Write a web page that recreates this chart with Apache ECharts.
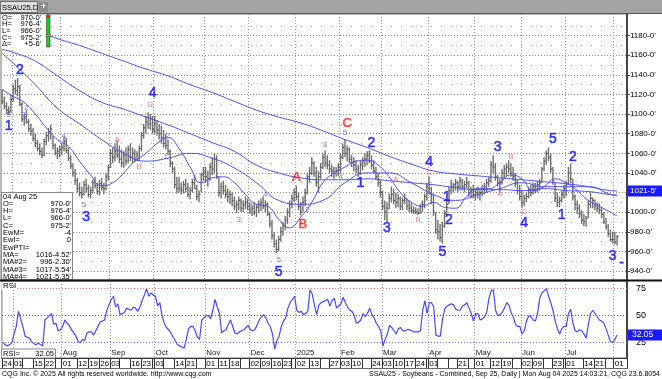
<!DOCTYPE html>
<html><head><meta charset="utf-8">
<script src="https://cdn.jsdelivr.net/npm/echarts@6/dist/echarts.min.js"></script>
<style>html,body{margin:0;padding:0;background:#fff;}#c{width:662px;height:379px;}</style>
</head><body><div id="c"></div>
<script>
// ---------- calendar ----------
const holidays = ['2024-07-04','2024-09-02','2024-11-28','2024-12-25','2025-01-01','2025-01-09','2025-01-20','2025-02-17','2025-04-18','2025-05-26','2025-06-19','2025-07-04'];
function buildTradingDays(start, end, hol) {
  const out = [];
  for (let t = Date.parse(start + 'T00:00:00Z'); t <= Date.parse(end + 'T00:00:00Z'); t += 86400000) {
    const d = new Date(t), wd = d.getUTCDay();
    if (wd === 0 || wd === 6) continue;
    const s = d.toISOString().slice(0, 10);
    if (hol.indexOf(s) >= 0) continue;
    out.push(s);
  }
  return out;
}
const categories = buildTradingDays('2024-06-24', '2025-08-08', holidays);
const labeledDates = ['2024-06-24','2024-07-01','2024-07-15','2024-07-22','2024-08-01','2024-08-12','2024-08-19','2024-08-26','2024-09-03','2024-09-16','2024-09-23','2024-10-01','2024-10-14','2024-10-21','2024-11-01','2024-11-11','2024-11-18','2024-12-02','2024-12-09','2024-12-16','2024-12-23','2025-01-02','2025-01-13','2025-01-27','2025-02-03','2025-02-10','2025-02-24','2025-03-03','2025-03-10','2025-03-17','2025-03-24','2025-04-01','2025-04-21','2025-05-01','2025-05-12','2025-05-19','2025-06-02','2025-06-09','2025-06-23','2025-07-01','2025-07-14','2025-07-21','2025-08-01'];
const monthNames = ['2025','Feb','Mar','Apr','May','Jun','Jul','Aug','Sep','Oct','Nov','Dec'];

// ---------- daily price bars (Jun 24 2024 .. Aug 04 2025) ----------
const priceHigh = [
  1125,1118,1112,1108,1120,
  1130,1135,1137,1130,1112,1100,1104,1095,1090,1086,1080,1074,1070,1066,1075,1082,1086,1089,1078,1070,1066,1068,
  1070,1077,1076,1066,1058,1050,1044,1035,1030,1026,1032,1034,1028,1026,1033,1036,1030,1033,1035,1030,1040,1048,
  1064,1066,1070,1073,1068,1064,1062,1066,1068,1070,1066,1064,1062,1068,1082,1090,1098,1102,1100,1098,
  1098,1094,1090,1088,1084,1080,1074,1064,1052,1046,1036,1036,1030,1032,1034,1030,1026,1034,1038,1028,1022,1040,1046,
  1046,1042,1050,1056,1060,1058,1036,1030,1032,1028,1024,1022,1020,1016,1012,1016,1014,1012,1016,1014,
  1010,1008,1010,1008,1012,1014,1016,1012,1010,1000,992,980,972,976,985,990,996,1004,1012,1018,1024,
  1027,1020,1010,1016,1024,1040,1046,1056,1052,1046,1042,1050,1060,1063,1058,1053,1048,1046,1046,1050,
  1060,1070,1074,1068,1066,1058,1056,1053,1048,1052,1056,1060,1062,1063,1058,1053,1046,1040,1033,
  1022,1012,1010,1019,1026,1024,1020,1019,1016,1015,1019,1014,1012,1009,1006,1005,1004,1008,1012,1019,1030,
  1036,1026,1018,1000,992,988,990,1002,1012,1026,1033,1030,1034,1032,1036,1034,1032,1036,1032,1026,1028,
  1024,1026,1022,1028,1030,1034,1036,1052,1058,1050,1038,1034,1044,1048,1050,1053,1050,1046,1040,1034,1028,
  1022,1018,1020,1026,1028,1030,1030,1032,1034,1046,1056,1063,1066,1060,1046,1030,1020,1016,1022,1028,
  1032,1046,1049,1034,1018,1012,1008,1002,998,996,1012,1020,1015,1013,1010,1009,1005,1000,994,988,982,980,
  980,976.5
];
const priceLow = [
  1110,1105,1100,1099,1101,
  1112,1120,1118,1108,1092,1088,1090,1082,1078,1072,1066,1062,1058,1055,1057,1068,1072,1074,1064,1058,1054,1056,
  1058,1062,1060,1052,1044,1036,1028,1020,1016,1014,1017,1020,1015,1014,1019,1024,1018,1017,1022,1018,1022,1032,
  1045,1050,1052,1055,1050,1046,1045,1048,1050,1052,1050,1051,1052,1053,1062,1075,1080,1085,1084,1080,
  1080,1078,1074,1070,1066,1064,1058,1046,1040,1024,1019,1020,1018,1019,1020,1015,1013,1020,1024,1012,1010,1020,1032,
  1030,1026,1032,1038,1040,1034,1016,1014,1018,1014,1010,1008,1006,1002,999,1002,1000,1000,1003,1002,
  998,996,997,995,999,1001,1003,1000,996,984,972,964,958,960,970,976,982,988,995,1004,1010,
  1012,1002,997,1000,1006,1018,1030,1038,1036,1026,1020,1034,1044,1046,1044,1040,1036,1034,1036,1037,
  1040,1054,1056,1052,1050,1046,1042,1040,1036,1038,1043,1046,1048,1050,1044,1040,1033,1026,1015,
  1002,992,990,1003,1010,1008,1004,1005,1002,1002,1008,1002,1000,999,998,998,997,998,1000,1004,1012,
  1018,1008,996,978,972,970,968,984,996,1008,1018,1020,1022,1020,1022,1022,1020,1024,1016,1014,1014,
  1012,1014,1012,1016,1018,1020,1026,1030,1040,1032,1026,1020,1028,1034,1036,1040,1036,1032,1026,1018,1012,
  1004,1006,1010,1014,1016,1018,1019,1020,1022,1030,1042,1048,1052,1040,1028,1010,1005,1005,1010,1014,
  1016,1028,1030,1012,1002,998,994,988,986,985,994,1004,1004,1002,1000,998,994,988,982,975,970,968,
  967,966
];
const priceClose = [
  1113,1108,1104,1103,1115,
  1126,1124,1128,1110,1095,1096,1092,1085,1083,1075,1070,1065,1062,1058,1072,1078,1082,1085,1068,1060,1062,1064,
  1066,1072,1063,1055,1047,1040,1032,1024,1020,1018,1028,1024,1018,1022,1030,1027,1021,1029,1025,1024,1036,1045,
  1060,1056,1062,1058,1054,1050,1058,1052,1064,1056,1060,1054,1058,1065,1078,1086,1092,1090,1096,1084,
  1090,1084,1080,1076,1070,1068,1062,1050,1044,1028,1024,1024,1022,1028,1024,1018,1022,1030,1024,1016,1018,1038,1040,
  1036,1034,1046,1044,1054,1036,1020,1026,1022,1018,1016,1018,1012,1006,1008,1012,1004,1008,1010,1006,
  1002,1004,1000,1005,1008,1010,1006,1008,998,988,976,968,962,972,980,986,992,1000,1008,1014,1020,
  1016,1006,1000,1010,1020,1036,1040,1050,1040,1030,1036,1046,1056,1050,1048,1044,1042,1040,1042,1046,
  1056,1066,1060,1064,1054,1050,1048,1044,1040,1048,1052,1054,1058,1052,1048,1042,1036,1030,1020,
  1006,1000,1004,1014,1018,1012,1010,1014,1006,1012,1014,1006,1004,1002,1001,1000,999,1006,1008,1016,1026,
  1024,1018,1000,982,980,974,986,998,1008,1022,1026,1028,1030,1026,1032,1026,1028,1030,1020,1022,1018,
  1020,1018,1020,1024,1026,1030,1032,1048,1046,1036,1030,1030,1040,1044,1046,1044,1040,1036,1030,1022,1016,
  1010,1014,1016,1022,1020,1026,1022,1028,1030,1044,1052,1060,1056,1044,1032,1014,1010,1012,1018,1024,
  1028,1040,1034,1016,1008,1004,998,992,990,994,1008,1014,1012,1006,1004,1002,998,990,985,978,972,972,
  969.5,975.25
];

// ---------- moving averages: [dayIndex, value] ----------
const ma4Points = [[5,1195],[15,1186],[25,1177],[35,1170],[45,1162],[55,1154],[65,1146],[75,1139],[85,1130],[95,1122],[105,1113],[115,1104],[125,1097],[135,1091],[145,1083],[155,1074],[165,1066],[175,1057],[185,1049],[195,1042],[205,1039],[215,1037],[225,1035],[235,1033],[245,1031],[255,1029],[265,1026],[275,1022],[278,1021.67]];
const ma3Points = [[0,1166],[5,1163],[15,1154],[25,1139],[35,1124],[45,1112],[55,1105],[65,1097],[75,1089],[85,1080],[95,1071],[105,1062],[115,1048],[125,1040],[135,1035],[145,1033],[155,1033],[165,1034],[175,1032],[185,1030],[195,1028],[205,1025],[215,1023],[225,1023],[235,1022],[245,1024],[255,1022],[265,1021],[275,1018],[278,1017.69]];
const ma1Points = [[0,1162],[5,1152],[15,1130],[25,1106],[35,1090],[45,1074],[55,1060],[65,1052],[75,1055],[85,1060],[95,1055],[105,1045],[115,1030],[125,1012],[135,1008],[145,1012],[155,1030],[165,1040],[175,1040],[185,1030],[195,1018],[205,1012],[215,1018],[225,1024],[235,1030],[245,1026],[255,1026],[265,1026],[275,1018],[278,1016.57]];
const ma2Points = [[0,1125],[5,1118],[10,1112],[15,1100],[20,1086],[25,1074],[30,1067],[35,1052],[40,1038],[45,1027],[50,1030],[55,1040],[60,1052],[65,1060],[70,1070],[75,1076],[80,1065],[85,1046],[90,1030],[95,1035],[100,1036],[105,1030],[110,1018],[115,1008],[120,1006],[125,993],[130,984],[135,995],[140,1010],[145,1030],[150,1040],[155,1046],[160,1052],[165,1053],[170,1048],[175,1036],[180,1020],[185,1010],[190,1006],[195,1010],[200,1005],[205,1004],[210,1016],[215,1024],[220,1024],[225,1030],[230,1038],[235,1034],[240,1022],[245,1026],[250,1034],[255,1030],[260,1022],[265,1012],[270,1006],[275,1000],[278,996.29]];

// ---------- RSI (daily) ----------
const rsiValues = [
  25,23,22,23,25,33,40,54,47,40, 31,30,29,26,24,23,25,23,22,46, 48,50,52,42,43,36,37,40,46,43,
  41,37,34,31,26,25,28,27,34,35, 35,32,36,40,44,45,46,55,60,65, 68,58,61,51,52,53,57,56,55,58,
  57,54,58,64,69,75,68,71,69,68, 59,62,50,43,39,37,34,30,27,23, 22,21,20,28,38,40,40,36,30,28,
  46,48,50,50,47,55,65,58,52,34, 36,37,42,46,40,34,33,35,36,37, 39,41,37,36,37,41,46,49,51,48,
  43,40,33,19,27,31,40,45,48,57, 62,65,68,55,53,54,51,52,54,74, 70,60,51,60,62,63,64,65,59,64,
  66,57,59,61,67,62,58,55,54,50, 43,44,46,52,49,52,57,51,48,43, 40,36,22,28,33,41,39,36,33,38,
  39,36,36,37,37,36,35,35,35,36, 55,64,52,62,62,58,32,31,31,47, 56,59,60,61,60,56,55,55,59,60,
  62,57,52,45,52,52,46,47,49,53, 66,73,74,55,50,51,53,57,62,60, 53,49,42,40,40,33,36,45,50,49,
  46,45,52,66,71,73,75,68,62,55, 45,38,33,38,40,40,52,56,43,36, 35,37,36,33,29,42,52,55,52,49,
  46,45,43,38,32,26,25,28,32.05
];

// ---------- wave labels ----------
const waveIdx = [3,3,8,11,10,28,37,38,52,62,67,68,75,74,107,119,125,125,133,136,137,138,146,153,155,156,162,167,174,178,188,193,193,199,201,202,224,225,230,236,236,249,253,258,276,280];
const wavePrice = [1099,1088,1145,1106,1099,1078,1007,995,1074,1046,1109,1121.5,1078,1056,992,1017.5,951,939,1035,987,1014,1002,1068.5,1036,1081,1091,1030,1070.5,984,1033,992,1040,1051,959,1015,992,1066.5,1018.5,1056.5,1000,989,1074.6,997,1056,955,948];
const waveText = ['5','1','2','2','1','4','5','3','A','B','C','4','2','1','3','4','5','5','A','B','1','2','3','4','5','C','1','2','3','A','B','C','4','5','1','2','3','A','B','C','4','5','1','2','3','-'];
const waveKind = [1,0,0,1,1,1,1,0,3,3,3,0,1,1,1,1,1,0,2,2,1,1,1,1,1,2,0,0,0,3,3,3,0,0,0,0,0,3,3,3,0,0,0,0,0,0];

const priceTicks = [940,960,980,1000,1020,1040,1060,1080,1100,1120,1140,1160,1180];
const priceMinor = [950,970,990,1010,1030,1050,1070,1090,1110,1130,1150,1170,1190];
const rsiTicks = [25,50,75];

// ---------- helpers ----------
const FONT = 'Liberation Sans, Arial, sans-serif';
const labelSet = new Set(labeledDates);
const isMonthStart = categories.map((c, k) => k > 0 && c.slice(5, 7) !== categories[k - 1].slice(5, 7));
const isWeekStart = categories.map((c, k) => {
  if (k === 0) return true;
  const a = Date.parse(categories[k - 1] + 'T00:00:00Z'), b = Date.parse(c + 'T00:00:00Z');
  return new Date(b).getUTCDay() < new Date(a).getUTCDay() || (b - a) > 3 * 86400000;
});
const lastDataIdx = priceHigh.length - 1;
const tickFlag = categories.map((c, k) => {
  if (k >= lastDataIdx) return false;
  if (labelSet.has(c) || isMonthStart[k]) return true;
  if (isWeekStart[k]) {
    for (let j = 1; j <= 3; j++) if (k - j >= 0 && isMonthStart[k - j]) return false;
    return true;
  }
  return false;
});
const barData = priceHigh.map((h, k) => [k, h, priceLow[k], priceClose[k]]);
const waveStyles = [
  {color: '#1414ff', fontSize: 14, textBorderColor: '#1414ff', textBorderWidth: 0.6},
  {color: '#5252e6', fontSize: 8},
  {color: '#ff1a1a', fontSize: 13, textBorderColor: '#ff1a1a', textBorderWidth: 0.5},
  {color: '#ff5a5a', fontSize: 8}
];
const waveData = waveText.map((t, k) => ({
  value: [waveIdx[k], wavePrice[k]],
  label: Object.assign({show: true, position: 'inside', formatter: t, fontFamily: FONT}, waveStyles[waveKind[k]])
}));
const maLine = (name, pts) => ({
  name: name, type: 'line', xAxisIndex: 0, yAxisIndex: 0, data: pts, smooth: 0.5,
  showSymbol: false, symbol: 'none', silent: true, z: 3,
  lineStyle: {color: '#5050f0', width: 1}
});
const dotted = (color) => ({color: color, width: 1, type: [1, 2]});

const chart = echarts.init(document.getElementById('c'));
chart.setOption({
  animation: false,
  backgroundColor: '#ffffff',
  grid: [
    {left: 1, top: 14, width: 626, height: 266, show: true, borderColor: '#777', borderWidth: 1, backgroundColor: '#fff'},
    {left: 1, top: 281, width: 626, height: 77, show: true, borderColor: '#777', borderWidth: 1, backgroundColor: '#fff'}
  ],
  xAxis: [
    {gridIndex: 0, type: 'category', data: categories, boundaryGap: true,
     axisLine: {show: false}, axisTick: {show: false}, axisLabel: {show: false},
     splitLine: {show: true, interval: (k) => isMonthStart[k], lineStyle: dotted('#999')}},
    {gridIndex: 1, type: 'category', data: categories, boundaryGap: true, position: 'bottom',
     axisLine: {show: true, lineStyle: {color: '#333', width: 1}},
     axisTick: {show: true, interval: (k) => tickFlag[k], length: 10, lineStyle: {color: '#333'}},
     axisLabel: {show: true, interval: (k, v) => labelSet.has(v), formatter: (v) => v.slice(8, 10),
                 align: 'left', fontSize: 8, margin: 2, color: '#000', fontFamily: FONT, showMinLabel: true, showMaxLabel: true},
     splitLine: {show: true, interval: (k) => isMonthStart[k], lineStyle: dotted('#999')}},
    {gridIndex: 1, type: 'category', data: categories, boundaryGap: true, position: 'bottom',
     axisLine: {show: false}, axisTick: {show: false}, splitLine: {show: false},
     axisLabel: {show: true, inside: true, interval: (k) => isMonthStart[k] && k < 270,
                 formatter: (v) => monthNames[parseInt(v.slice(5, 7), 10) - 1],
                 align: 'left', fontSize: 8, margin: 1, color: '#222', fontFamily: FONT}}
  ],
  yAxis: [
    {gridIndex: 0, type: 'value', position: 'right', min: 930.8, max: 1202.1,
     axisLine: {show: true, lineStyle: {color: '#444', width: 2}},
     axisTick: {show: true, customValues: priceTicks, length: 3, lineStyle: {color: '#444'}},
     axisLabel: {show: true, customValues: priceTicks, formatter: (v) => v + "-0'", fontSize: 8, margin: 3, color: '#000', fontFamily: FONT},
     splitLine: {show: true, lineStyle: dotted('#8a8a8a')}},
    {gridIndex: 0, type: 'value', position: 'right', min: 930.8, max: 1202.1,
     axisLine: {show: false}, axisTick: {show: false, customValues: priceMinor},
     axisLabel: {show: false, customValues: priceMinor},
     splitLine: {show: true, lineStyle: {color: '#aaa', width: 1, type: [1, 9]}}},
    {gridIndex: 1, type: 'value', position: 'right', min: 10.8, max: 82.1,
     axisLine: {show: true, lineStyle: {color: '#444', width: 2}},
     axisTick: {show: false, customValues: rsiTicks},
     axisLabel: {show: true, customValues: rsiTicks, fontSize: 9, margin: 9, color: '#000', fontFamily: FONT},
     splitLine: {show: false}}
  ],
  series: [
    {name: 'SSAU25', type: 'custom', xAxisIndex: 0, yAxisIndex: 0, data: barData, clip: true, z: 2,
     encode: {x: 0, y: [1, 2]},
     renderItem: function (params, api) {
       const i = api.value(0);
       const top = api.coord([i, api.value(1)]);
       const bot = api.coord([i, api.value(2)]);
       const cl = api.coord([i, api.value(3)]);
       return {type: 'group', children: [
         {type: 'line', shape: {x1: top[0], y1: top[1], x2: bot[0], y2: bot[1]}, style: {stroke: '#6e6e6e', lineWidth: 1.4}},
         {type: 'line', shape: {x1: cl[0], y1: cl[1], x2: cl[0] + 1.5, y2: cl[1]}, style: {stroke: '#444', lineWidth: 1}}
       ]};
     }},
    maLine('MA#4', ma4Points),
    maLine('MA#3', ma3Points),
    maLine('MA', ma1Points),
    maLine('MA#2', ma2Points),
    {name: 'waves', type: 'scatter', xAxisIndex: 0, yAxisIndex: 0, data: waveData, symbol: 'circle', symbolSize: 2,
     itemStyle: {color: 'rgba(255,255,255,0)'}, silent: true, z: 6,
     label: {show: true, position: 'inside'}, labelLayout: {hideOverlap: false}}
    ,
    {name: 'RSI', type: 'line', xAxisIndex: 1, yAxisIndex: 2, data: rsiValues, showSymbol: false, symbol: 'none',
     silent: true, z: 3, lineStyle: {color: '#4848ff', width: 1.2},
     markLine: {silent: true, symbol: 'none', label: {show: false}, animation: false,
       data: [
         {yAxis: 75, lineStyle: dotted('#e07070')},
         {yAxis: 50, lineStyle: dotted('#555')},
         {yAxis: 25, lineStyle: dotted('#6a6aee')}
       ]}}
  ]
});

// ---------- decorations ----------
const yMA4 = chart.convertToPixel({yAxisIndex: 0}, 1021.67);
const yRSI = chart.convertToPixel({yAxisIndex: 2}, 32.05);
const t = (x, y, s, opt) => Object.assign({type: 'text', x: x, y: y, z: 101,
  style: Object.assign({text: s, fill: '#000', font: '7.5px ' + FONT, textVerticalAlign: 'middle'}, opt || {})});
const boxLines = [
  ['04 Aug 25', ''], ['O=', "970-0'"], ['H=', "976-4'"], ['L=', "966-0'"], ['C=', "975-2'"],
  ['EwM=', '-4'], ['EwI=', '0'], ['EwPTI=', ''], ['MA=', "1016-4.52'"], ['MA#2=', "996-2.30'"],
  ['MA#3=', "1017-5.54'"], ['MA#4=', "1021-5.35'"]
];
const g = [
  {type: 'rect', shape: {x: 0, y: 0, width: 662, height: 13}, style: {fill: '#a3a3a3'}, z: 100},
  {type: 'rect', shape: {x: 0.5, y: 1.5, width: 37, height: 11}, style: {fill: '#dedede', stroke: '#6d6d6d', lineWidth: 1}, z: 100},
  t(2, 7.5, 'SSAU25,D', {font: '7.5px ' + FONT}),
  {type: 'rect', shape: {x: 39, y: 2, width: 9, height: 10}, style: {fill: '#8a8a8a'}, z: 100},
  t(41, 7, '+', {fill: '#fff', font: 'bold 9px ' + FONT}),
  {type: 'line', shape: {x1: 0, y1: 13.5, x2: 662, y2: 13.5}, style: {stroke: '#555', lineWidth: 1}, z: 100},
  {type: 'rect', shape: {x: 1, y: 14.5, width: 45, height: 33}, style: {fill: '#fff'}, z: 100},
  t(2, 17.5, 'O='), t(41, 17.5, "970-0'", {textAlign: 'right'}),
  t(2, 24, 'H='), t(41, 24, "976-4'", {textAlign: 'right'}),
  t(2, 31, 'L='), t(41, 31, "966-0'", {textAlign: 'right'}),
  t(2, 37.5, 'C='), t(41, 37.5, "975-2'", {textAlign: 'right'}),
  t(2, 44, 'Δ='), t(41, 44, "+5-6'", {textAlign: 'right'}),
  {type: 'rect', shape: {x: 46.5, y: 15, width: 3.5, height: 32}, style: {fill: '#22cc22', stroke: '#333', lineWidth: 0.6}, z: 101},
  {type: 'rect', shape: {x: 46.5, y: 15, width: 3.5, height: 3}, style: {fill: '#ee2020'}, z: 102},
  {type: 'rect', shape: {x: 46, y: 34.5, width: 4.5, height: 1.5}, style: {fill: '#ddcc33', stroke: '#444', lineWidth: 0.5}, z: 102},
  {type: 'rect', shape: {x: 1.5, y: 192.5, width: 71, height: 87}, style: {fill: '#fff', stroke: '#888', lineWidth: 1}, z: 100}
];
boxLines.forEach((ln, k) => {
  const y = 196.5 + k * 7.3;
  g.push(t(3, y, ln[0]));
  if (ln[1]) g.push(t(71, y, ln[1], {textAlign: 'right'}));
});
g.push(
  {type: 'line', shape: {x1: 0, y1: 280.5, x2: 662, y2: 280.5}, style: {stroke: '#111', lineWidth: 2}, z: 100},
  {type: 'rect', shape: {x: 1.5, y: 282, width: 15, height: 8}, style: {fill: '#fff'}, z: 100},
  t(3, 286, 'RSI', {font: '8px ' + FONT}),
  {type: 'rect', shape: {x: 1.5, y: 349, width: 54, height: 9}, style: {fill: '#fff', stroke: '#888', lineWidth: 1}, z: 100},
  t(3, 353.5, 'RSI='), t(54, 353.5, '32.05', {textAlign: 'right'}),
  {type: 'rect', shape: {x: 628, y: yMA4 - 5.5, width: 34, height: 11}, style: {fill: '#1a1aff'}, z: 100},
  t(630, yMA4, "1021-5'", {fill: '#fff', font: '8px ' + FONT}),
  {type: 'rect', shape: {x: 628, y: yRSI - 5.5, width: 34, height: 11}, style: {fill: '#1a1aff'}, z: 100},
  t(632, yRSI, '32.05', {fill: '#fff', font: '8.5px ' + FONT}),
  {type: 'line', shape: {x1: 0, y1: 368.5, x2: 628, y2: 368.5}, style: {stroke: '#666', lineWidth: 1}, z: 100},
  t(2, 374.5, 'CQG Inc. © 2025 All rights reserved worldwide. http://www.cqg.com', {font: '7px ' + FONT}),
  t(660, 374.5, 'SSAU25 - Soybeans - Combined, Sep 25, Daily | Mon Aug 04 2025 14:03:21, CQG 23.6.8054', {font: '7px ' + FONT, textAlign: 'right'})
);
chart.setOption({graphic: g});
</script></body></html>
